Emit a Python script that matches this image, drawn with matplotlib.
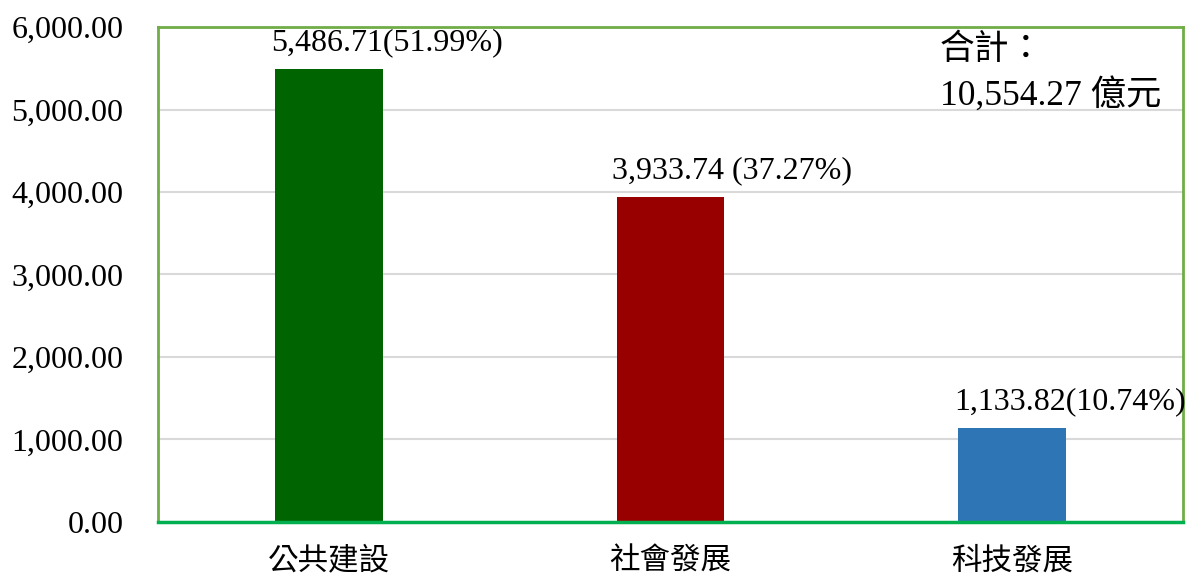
import matplotlib
matplotlib.use("Agg")
import matplotlib.pyplot as plt

# ── data ──────────────────────────────────────────────────────────────────────
categories = ["公共建設", "社會發展", "科技發展"]
values     = [5486.71, 3933.74, 1133.82]
labels     = ["5,486.71(51.99%)", "3,933.74 (37.27%)", "1,133.82(10.74%)"]
colors     = ["#006400", "#980000", "#2E75B6"]
yticks     = [0, 1000, 2000, 3000, 4000, 5000, 6000]
total_lines = ["合計：", "10,554.27 億元"]

FONTS = ["Liberation Serif", "Noto Sans CJK TC"]
plt.rcParams["font.family"] = FONTS

fig = plt.figure(figsize=(11.86, 5.76), dpi=100)
ax = fig.add_axes([0.1332, 0.0938, 0.8643, 0.8593])

x = list(range(len(categories)))
bar_w = 0.316
ax.bar(x, values, width=bar_w, color=colors, zorder=3)

for xi, v, lab in zip(x, values, labels):
    ax.text(xi - bar_w / 2 - 0.012, v + 320, lab, ha="left", va="center",
            fontsize=23, family=FONTS)

# total annotation, two lines
ax.text(0.763, 0.953, total_lines[0], ha="left", va="center",
        fontsize=25, family=FONTS, transform=ax.transAxes)
ax.text(0.763, 0.862, total_lines[1], ha="left", va="center",
        fontsize=25.5, family=FONTS, transform=ax.transAxes)

ax.set_xlim(-0.5, 2.5)
ax.set_ylim(0, 6000)
ax.set_yticks(yticks)
ax.set_yticklabels([f"{t:,.2f}" for t in yticks], fontsize=23)
ax.set_xticks(x)
ax.set_xticklabels(categories, fontsize=22, family="Noto Sans CJK TC")
ax.tick_params(axis="y", length=0, pad=25)
ax.tick_params(axis="x", length=0, pad=17)

ax.grid(axis="y", color="#D9D9D9", linewidth=1.5, zorder=0)
for side in ["left", "right", "top"]:
    ax.spines[side].set_color("#70AD47")
    ax.spines[side].set_linewidth(2)
ax.spines["bottom"].set_color("#00B050")
ax.spines["bottom"].set_linewidth(2.5)
ax.spines["bottom"].set_zorder(4)

fig.savefig("out.png", dpi=100)
